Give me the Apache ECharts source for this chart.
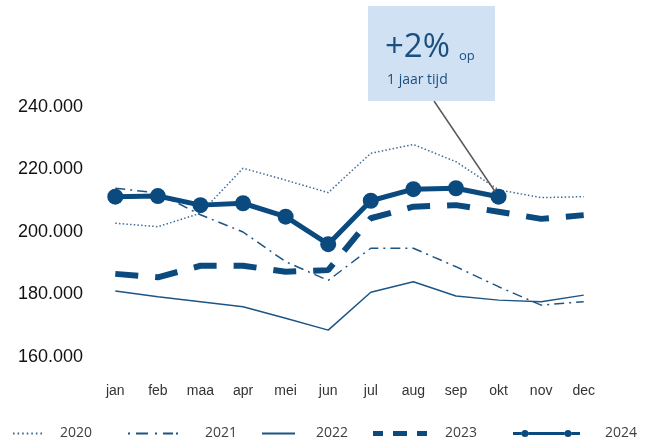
<!DOCTYPE html>
<html>
<head>
<meta charset="utf-8">
<script src="https://cdn.jsdelivr.net/npm/echarts@6/dist/echarts.min.js"></script>
<style>
html,body{margin:0;padding:0;background:#fff;}
#chart{width:651px;height:441px;}
</style>
</head>
<body>
<div id="chart"></div>
<script>
var months = ['jan','feb','maa','apr','mei','jun','jul','aug','sep','okt','nov','dec'];
var seriesNames = ['2020','2021','2022','2023','2024'];
var v2020 = [202800, 201700, 206000, 220400, 216600, 212600, 225200, 228000, 222500, 213500, 211000, 211300];
var v2021 = [214000, 212500, 205500, 200000, 190500, 184500, 194800, 194800, 188900, 182500, 176600, 177700];
var v2022 = [181100, 179300, 177700, 176100, 172400, 168600, 180700, 184100, 179500, 178200, 177700, 179800];
var v2023 = [186600, 185500, 189200, 189200, 187300, 187800, 204400, 208100, 208600, 206500, 204200, 205400];
var v2024 = [211300, 211500, 208600, 209200, 204900, 196100, 210000, 213700, 214000, 211300, null, null];
var yTicks = [160000, 180000, 200000, 220000, 240000];
var annoBig = '+2%';
var annoSmall = 'op';
var annoSub = '1 jaar tijd';
var annoMonth = 'okt';

var dark = '#0b4a7e';
var mid = '#1d5585';
var light = '#3d6b96';

function rect(x, y, w, h) {
  return 'M' + x + ',' + y + 'L' + (x + w) + ',' + y + 'L' + (x + w) + ',' + (y + h) + 'L' + x + ',' + (y + h) + 'Z';
}
function circ(cx, cy, r) {
  return 'M' + (cx - r) + ',' + cy + 'A' + r + ',' + r + ',0,1,1,' + (cx + r) + ',' + cy + 'A' + r + ',' + r + ',0,1,1,' + (cx - r) + ',' + cy + 'Z';
}
// legend icons
var icon2020 = (function () { var p = ''; for (var i = 0; i < 7; i++) { p += rect(i * (27.4 / 6), 0, 1.6, 2); } return 'path://' + p; })();
var icon2021 = 'path://' + rect(0, 0, 2, 2) + rect(8, 0, 12, 2) + rect(27, 0, 2, 2) + rect(35, 0, 10, 2) + rect(48, 0, 2, 2);
var icon2022 = 'path://' + rect(0, 0, 33, 2);
var icon2023 = 'path://' + rect(0, 0, 10, 5) + rect(20, 0, 14, 5) + rect(44, 0, 10, 5);
var icon2024 = 'path://' + rect(0, 2, 8.5, 3) + rect(15.5, 2, 36, 3) + rect(58.5, 2, 8.5, 3) + circ(12, 3.5, 3.5) + circ(55, 3.5, 3.5);

var legendDefs = [
  {name: '2020', left: 13, w: 29, h: 2, icon: icon2020, pad: 13},
  {name: '2021', left: 128, w: 50, h: 2, icon: icon2021, pad: 22},
  {name: '2022', left: 262, w: 33, h: 2, icon: icon2022, pad: 16},
  {name: '2023', left: 373, w: 54, h: 5, icon: icon2023, pad: 13},
  {name: '2024', left: 513, w: 67, h: 7, icon: icon2024, pad: 20}
];
var legends = legendDefs.map(function (d) {
  return {
    data: [{name: d.name, icon: d.icon}],
    left: d.left,
    top: 425.5,
    padding: 0,
    itemWidth: d.w,
    itemHeight: d.h,
    symbolKeepAspect: false,
    itemStyle: {borderWidth: 0},
    selectedMode: false,
    textStyle: {fontFamily: 'Open Sans', fontSize: 14, color: '#404040', lineHeight: 16, padding: [0, 0, 0, d.pad]}
  };
});

var chart = echarts.init(document.getElementById('chart'), null, {renderer: 'canvas'});
var option = {
  animation: false,
  backgroundColor: '#fff',
  grid: {left: 94, right: 46, top: 107, bottom: 84, containLabel: false},
  legend: legends,
  xAxis: {
    type: 'category',
    data: months,
    boundaryGap: true,
    axisLine: {show: false},
    axisTick: {show: false},
    axisLabel: {fontFamily: 'Liberation Sans', fontSize: 14, color: '#333', margin: 27}
  },
  yAxis: {
    type: 'value',
    min: yTicks[0],
    max: yTicks[yTicks.length - 1],
    interval: yTicks[1] - yTicks[0],
    axisLine: {show: false},
    axisTick: {show: false},
    splitLine: {show: false},
    axisLabel: {
      fontFamily: 'Liberation Sans', fontSize: 18, color: '#111', margin: 11,
      formatter: function (v) { return (v / 1000).toFixed(0) + '.000'; }
    }
  },
  series: [
    {name: '2020', type: 'line', data: v2020, symbol: 'none', color: light,
     lineStyle: {color: light, width: 1.5, type: [1.5, 2.2]}},
    {name: '2021', type: 'line', data: v2021, symbol: 'none', color: mid,
     lineStyle: {color: mid, width: 1.5, type: [10, 5, 2, 5]}},
    {name: '2022', type: 'line', data: v2022, symbol: 'none', color: mid,
     lineStyle: {color: mid, width: 1.5}},
    {name: '2023', type: 'line', data: v2023, symbol: 'none', color: dark,
     lineStyle: {color: dark, width: 6, type: [23, 17]}},
    {name: '2024', type: 'line', data: v2024, symbol: 'circle', symbolSize: 16, showSymbol: true, color: dark,
     itemStyle: {color: dark, borderWidth: 0},
     lineStyle: {color: dark, width: 5}}
  ]
};
chart.setOption(option);

// annotation box with leader line to the okt point of 2024
var idx = months.indexOf(annoMonth);
var p = chart.convertToPixel({seriesIndex: 4}, [idx, v2024[idx]]);
var sx = 434, sy = 101;
var dx = p[0] - sx, dy = p[1] - sy, len = Math.sqrt(dx * dx + dy * dy);
var ex = p[0] - dx / len * 6, ey = p[1] - dy / len * 6;
chart.setOption({
  graphic: [
    {type: 'line', shape: {x1: sx, y1: sy, x2: ex, y2: ey}, style: {stroke: '#595959', lineWidth: 1.5}, z: 100},
    {type: 'rect', shape: {x: 368, y: 6, width: 127, height: 95}, style: {fill: '#cfe1f2'}, z: 100},
    {type: 'text', x: 385, y: 48, style: {text: annoBig, fontFamily: 'Open Sans', fontSize: 33, fill: '#1b4f80', verticalAlign: 'middle'}, z: 101},
    {type: 'text', x: 459, y: 56, style: {text: annoSmall, fontFamily: 'Open Sans', fontSize: 13, fill: '#1b4f80', verticalAlign: 'middle'}, z: 101},
    {type: 'text', x: 387, y: 80, style: {text: annoSub, fontFamily: 'Open Sans', fontSize: 14, fill: '#1b4f80', verticalAlign: 'middle'}, z: 101}
  ]
});
</script>
</body>
</html>
